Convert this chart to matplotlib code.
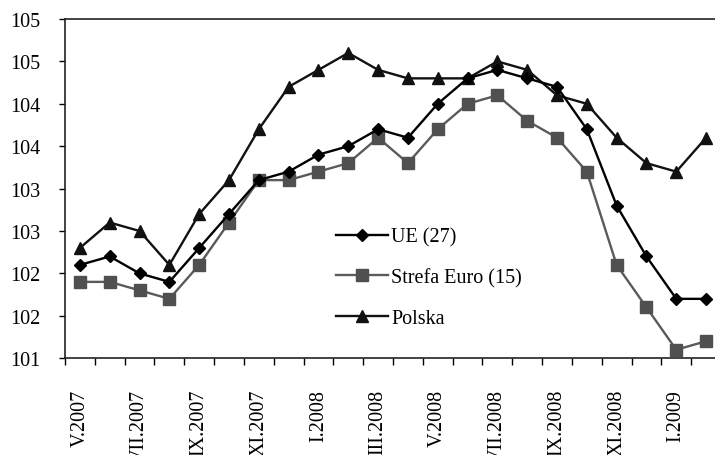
#!/usr/bin/env python3

'''HICP index: UE (27), Strefa Euro (15), Polska, V.2007 - II.2009'''

import numpy as np
import matplotlib
matplotlib.use('Agg')
import matplotlib.pyplot as plt
from matplotlib.ticker import FuncFormatter

MONTHS = ['V.2007', 'VI.2007', 'VII.2007', 'VIII.2007', 'IX.2007', 'X.2007',
          'XI.2007', 'XII.2007', 'I.2008', 'II.2008', 'III.2008', 'IV.2008',
          'V.2008', 'VI.2008', 'VII.2008', 'VIII.2008', 'IX.2008', 'X.2008',
          'XI.2008', 'XII.2008', 'I.2009', 'II.2009']

UE = [102.1, 102.2, 102.0, 101.9, 102.3, 102.7, 103.1, 103.2, 103.4, 103.5, 103.7,
      103.6, 104.0, 104.3, 104.4, 104.3, 104.2, 103.7, 102.8, 102.2, 101.7, 101.7]
EURO = [101.9, 101.9, 101.8, 101.7, 102.1, 102.6, 103.1, 103.1, 103.2, 103.3, 103.6,
        103.3, 103.7, 104.0, 104.1, 103.8, 103.6, 103.2, 102.1, 101.6, 101.1, 101.2]
POLSKA = [102.3, 102.6, 102.5, 102.1, 102.7, 103.1, 103.7, 104.2, 104.4, 104.6, 104.4,
          104.3, 104.3, 104.3, 104.5, 104.4, 104.1, 104.0, 103.6, 103.3, 103.2, 103.6]

SERIES_NAMES = ['UE (27)', 'Strefa Euro (15)', 'Polska']

plt.rcParams['font.family'] = ['Liberation Serif', 'DejaVu Serif']
FS = 14.5


def excel_round(v, pos):
    '''excel shows 101.5 as 102 with 0 decimals'''
    return '{:d}'.format(int(np.floor(v + 0.5 + 1e-9)))


fig = plt.figure(figsize=(7.15, 4.56), dpi=100)
ax = fig.add_axes([65 / 715, (456 - 359.2) / 456, 656 / 715, 339.2 / 456])

x = np.arange(len(MONTHS))
ax.plot(x, UE, color='black', lw=1.7, marker='D', ms=6.5, label=SERIES_NAMES[0], zorder=4)
ax.plot(x, EURO, color='#5a5a5a', lw=1.7, marker='s', ms=8.4, mfc='#505050', mec='#505050',
        label=SERIES_NAMES[1], zorder=3)
ax.plot(x, POLSKA, color='#111111', lw=1.7, marker='^', ms=8.8, label=SERIES_NAMES[2], zorder=2)

ax.set_xlim(-0.5, len(MONTHS) - 0.5)
ax.set_ylim(101, 105)
ax.set_yticks(np.arange(101, 105.01, 0.5))
ax.yaxis.set_major_formatter(FuncFormatter(excel_round))
ax.tick_params(axis='y', direction='out', length=4, width=1, pad=14, labelsize=FS)

ax.set_xticks(x[::2])
ax.set_xticklabels(MONTHS[::2], rotation=90, fontsize=FS)
ax.set_xticks(np.arange(-0.5, len(MONTHS)), minor=True)
ax.tick_params(axis='x', which='major', length=0, pad=22)
ax.tick_params(axis='x', which='minor', direction='out', length=5, width=1)
for lbl in ax.get_xticklabels():
    lbl.set_va('top')

for s in ['left', 'bottom', 'top', 'right']:
    ax.spines[s].set_linewidth(1.2)
    ax.spines[s].set_color('#222222')

ax.legend(loc='upper left', bbox_to_anchor=(0.413, 0.385), frameon=False, fontsize=FS,
          handlelength=2.6, handletextpad=0.15, labelspacing=1.05, borderpad=0,
          borderaxespad=0)

fig.savefig('out.png', dpi=100)
